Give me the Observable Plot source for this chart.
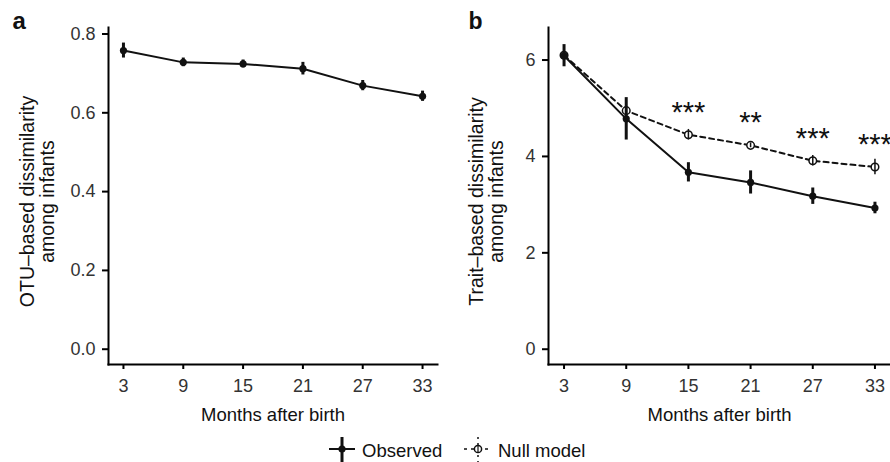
<!DOCTYPE html>
<html>
<head>
<meta charset="utf-8">
<script src="https://cdn.jsdelivr.net/npm/d3@7"></script>
<script src="https://cdn.jsdelivr.net/npm/@observablehq/plot@0.6"></script>
<style>
  html, body { margin: 0; padding: 0; background: #fff; }
  body { font-family: "Liberation Sans", Arial, Helvetica, sans-serif; }
  #wrap { position: relative; width: 890px; height: 462px; overflow: hidden; background: #fff; }
  .panel { position: absolute; top: 0; }
  #legend { position: absolute; left: 0; top: 430px; }
</style>
</head>
<body>
<div id="wrap">
  <div id="panelA" class="panel" style="left:0px"></div>
  <div id="panelB" class="panel" style="left:445px"></div>
  <div id="legend"></div>
</div>
<script>
// ---- data ----
const months = [3, 9, 15, 21, 27, 33];
// panel a: OTU-based dissimilarity (mean, error)
const otuMean = [0.758, 0.728, 0.724, 0.712, 0.669, 0.642];
const otuErr  = [0.019, 0.011, 0.010, 0.016, 0.013, 0.013];
// panel b: trait-based dissimilarity
const observedMean = [6.09, 4.78, 3.67, 3.46, 3.175, 2.93];
const observedErr  = [0.23, 0.44, 0.20, 0.24, 0.17, 0.12];
const nullMean = [6.10, 4.95, 4.45, 4.23, 3.91, 3.78];
const nullErr  = [0.10, 0.10, 0.11, 0.05, 0.11, 0.16];
const sigLabels = ["", "", "***", "**", "***", "***"];
const yTicksA = [0, 0.2, 0.4, 0.6, 0.8];
const yTicksB = [0, 2, 4, 6];
const xLabel = "Months after birth";
const yLabelA = "OTU\u2013based dissimilarity\namong infants";
const yLabelB = "Trait\u2013based dissimilarity\namong infants";
const seriesNames = ["Observed", "Null model"];

const FONT = '"Liberation Sans", Arial, Helvetica, sans-serif';
const rowsA = months.map((m, i) => ({month: m, mean: otuMean[i], err: otuErr[i]}));
const rowsObs = months.map((m, i) => ({month: m, mean: observedMean[i], err: observedErr[i]}));
const rowsNull = months.map((m, i) => ({month: m, mean: nullMean[i], err: nullErr[i], sig: sigLabels[i]}));

function common(yLabel, yTicks, fmt, titleDx) {
  return [
    Plot.frame({anchor: "left", stroke: "black", strokeWidth: 2}),
    Plot.frame({anchor: "bottom", stroke: "black", strokeWidth: 2}),
    Plot.axisX(months, {tickSize: 5, tickPadding: 10, stroke: "black", strokeWidth: 2,
      fill: "#333", fontSize: 18, label: null}),
    Plot.axisY(yTicks, {tickSize: 6, tickPadding: 7, stroke: "black", strokeWidth: 2,
      fill: "#333", fontSize: 18, label: null, tickFormat: fmt}),
    Plot.text([xLabel], {frameAnchor: "bottom", textAnchor: "middle", lineAnchor: "bottom", dy: 56,
      fontSize: 18.5, fill: "#111"}),
    Plot.text([yLabel], {frameAnchor: "left", textAnchor: "middle", rotate: -90, lineAnchor: "middle",
      lineHeight: 1.05, dx: titleDx, dy: 5.5, fontSize: 19.5, fill: "#111"})
  ];
}

// ---- panel a ----
const plotA = Plot.plot({
  width: 445, height: 430,
  marginLeft: 108, marginRight: 8, marginTop: 27, marginBottom: 66,
  style: {fontFamily: FONT, fontSize: "18px", background: "transparent", overflow: "visible"},
  x: {domain: [1.5, 34.5]},
  y: {domain: [-0.0388, 0.8165]},
  marks: [
    ...common(yLabelA, yTicksA, d3.format(".1f"), -71),
    Plot.line(rowsA, {x: "month", y: "mean", stroke: "#111", strokeWidth: 2}),
    Plot.ruleX(rowsA, {x: "month", y1: d => d.mean - d.err, y2: d => d.mean + d.err,
      stroke: "#111", strokeWidth: 3}),
    Plot.dot(rowsA, {x: "month", y: "mean", r: 3.6, fill: "#111", stroke: "none"}),
    Plot.text(["a"], {frameAnchor: "top-left", textAnchor: "start", lineAnchor: "bottom",
      dx: -96, dy: 1, fontSize: 24, fontWeight: "bold", fill: "#111"})
  ]
});
document.getElementById("panelA").appendChild(plotA);

// ---- panel b ----
const plotB = Plot.plot({
  width: 445, height: 430,
  marginLeft: 103, marginRight: 0, marginTop: 27, marginBottom: 66,
  style: {fontFamily: FONT, fontSize: "18px", background: "transparent", overflow: "visible"},
  x: {domain: [1.5, 34.5]},
  y: {domain: [-0.317, 6.675]},
  marks: [
    ...common(yLabelB, yTicksB, d3.format("d"), -62.3),
    // null model
    Plot.line(rowsNull, {x: "month", y: "mean", stroke: "#111", strokeWidth: 2, strokeDasharray: "5,4"}),
    Plot.dot(rowsNull, {x: "month", y: "mean", r: 3.8, fill: "white", stroke: "#111", strokeWidth: 1.5}),
    Plot.ruleX(rowsNull, {x: "month", y1: d => d.mean - d.err, y2: d => d.mean + d.err,
      stroke: "#111", strokeWidth: 1.5}),
    // observed
    Plot.line(rowsObs, {x: "month", y: "mean", stroke: "#111", strokeWidth: 2}),
    Plot.ruleX(rowsObs, {x: "month", y1: d => d.mean - d.err, y2: d => d.mean + d.err,
      stroke: "#111", strokeWidth: 3}),
    Plot.dot(rowsObs, {x: "month", y: "mean", r: 3.6, fill: "#111", stroke: "none"}),
    // significance stars
    Plot.text(rowsNull.filter(d => d.sig), {x: "month", y: "mean", text: "sig",
      lineAnchor: "bottom", dy: -13, fontSize: 29, fill: "#111"}),
    Plot.text(["b"], {frameAnchor: "top-left", textAnchor: "start", lineAnchor: "bottom",
      dx: -80, dy: 1, fontSize: 23, fontWeight: "bold", fill: "#111"})
  ]
});
document.getElementById("panelB").appendChild(plotB);

// ---- legend ----
const lg = d3.select("#legend").append("svg").attr("width", 890).attr("height", 32)
  .style("font-family", FONT).style("overflow", "visible");
const cy = 19; // 449 - 430
// observed symbol
const gO = lg.append("g").attr("transform", "translate(342," + cy + ")");
gO.append("line").attr("x1", -13).attr("x2", 13).attr("stroke", "#111").attr("stroke-width", 2);
gO.append("line").attr("y1", -12).attr("y2", 13).attr("stroke", "#111").attr("stroke-width", 3);
gO.append("circle").attr("r", 3.6).attr("fill", "#111");
lg.append("text").attr("x", 362).attr("y", cy + 8).attr("font-size", 18.5).attr("fill", "#111").text(seriesNames[0]);
// null model symbol
const gN = lg.append("g").attr("transform", "translate(478," + cy + ")");
gN.append("line").attr("x1", -14).attr("x2", 14).attr("stroke", "#111").attr("stroke-width", 1.5)
  .attr("stroke-dasharray", "3,4").attr("stroke-dashoffset", 0);
gN.append("line").attr("y1", -12).attr("y2", 13).attr("stroke", "#111").attr("stroke-width", 1.5)
  .attr("stroke-dasharray", "2,4");
gN.append("circle").attr("r", 3.6).attr("fill", "white").attr("stroke", "#111").attr("stroke-width", 1.5);
gN.append("line").attr("y1", -4).attr("y2", 4).attr("stroke", "#111").attr("stroke-width", 1.2);
lg.append("text").attr("x", 498).attr("y", cy + 8).attr("font-size", 18.5).attr("fill", "#111").text(seriesNames[1]);
</script>
</body>
</html>
